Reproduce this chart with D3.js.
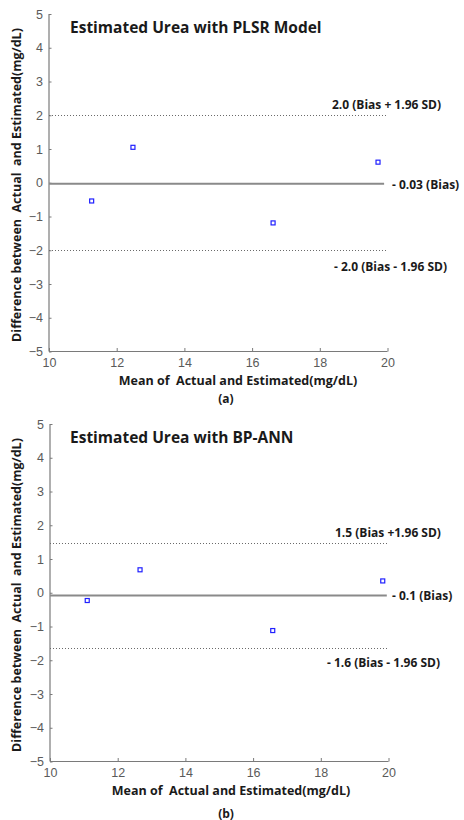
<!DOCTYPE html>
<html><head><meta charset="utf-8">
<script src="https://cdn.jsdelivr.net/npm/d3@7"></script>
<style>body{margin:0;background:#fff}svg{display:block}text{white-space:pre}</style>
</head><body>
<svg id="c" width="464" height="820"></svg>
<script>
// ---- data ----
const xTicks = [10, 12, 14, 16, 18, 20];
const yTicks = [5, 4, 3, 2, 1, 0, -1, -2, -3, -4, -5];
const titles = ["Estimated Urea with PLSR Model", "Estimated Urea with BP-ANN"];
const captions = ["(a)", "(b)"];
const meanA = [11.26, 12.48, 16.62, 19.72];
const diffA = [-0.54, 1.05, -1.19, 0.61];
const meanB = [11.10, 12.66, 16.58, 19.83];
const diffB = [-0.23, 0.68, -1.12, 0.35];
const biasA = [-0.03, 2.0, -2.0];        // bias, upper, lower
const biasB = [-0.08, 1.47, -1.64];
const biasLabelsA = ["- 0.03 (Bias)", "2.0 (Bias + 1.96 SD)", "- 2.0 (Bias - 1.96 SD)"];
const biasLabelsB = ["- 0.1 (Bias)", "1.5 (Bias +1.96 SD)", "- 1.6 (Bias - 1.96 SD)"];
const biasEnd = [19.9, 19.95];

const panels = [
  {top: 14, left: 49, mean: meanA, diff: diffA, bias: biasA, labels: biasLabelsA,
   lblX: [392, 332, 334], lblDy: [5, -6, 21]},
  {top: 424, left: 50, mean: meanB, diff: diffB, bias: biasB, labels: biasLabelsB,
   lblX: [392, 335, 327], lblDy: [5, -6, 19]}
];

const svg = d3.select("#c");
const W = 338.5, H = 337.5;
const boldFont = "'Open Sans', 'Liberation Sans', sans-serif";
const txt = "#1a1a1a";

panels.forEach((p, i) => {
  const g = svg.append("g").attr("transform", `translate(${p.left},${p.top})`);
  const x = d3.scaleLinear().domain([10, 20]).range([0, W]);
  const y = d3.scaleLinear().domain([-5, 5]).range([H, 0]);

  // axes
  const ya = d3.axisLeft(y).tickValues(yTicks).tickSize(-2.5).tickPadding(6).tickFormat(d3.format("d"));
  const xa = d3.axisBottom(x).tickValues(xTicks).tickSize(-3.5).tickPadding(7).tickFormat(d3.format("d"));
  const gy = g.append("g").call(ya);
  const gx = g.append("g").attr("transform", `translate(0,${H})`).call(xa);
  [gx, gy].forEach(a => {
    a.select(".domain").attr("stroke", "#7a7a7a").attr("stroke-width", 1.2);
    a.selectAll(".tick line").attr("stroke", "#7a7a7a");
    a.selectAll(".tick text").attr("fill", "#5a5a5a").attr("font-family", "'Liberation Sans', Arial, sans-serif").attr("font-size", 12.5);
  });
  gx.selectAll(".domain").attr("d", `M0,0H${W}`);
  gy.selectAll(".domain").attr("d", `M0,${H}V0`);

  // limit lines
  g.append("line").attr("x1", 0).attr("x2", x(biasEnd[i])).attr("y1", y(p.bias[0])).attr("y2", y(p.bias[0]))
    .attr("stroke", "#8a8a8a").attr("stroke-width", 2);
  [1, 2].forEach(k => {
    g.append("line").attr("x1", 0).attr("x2", x(20)).attr("y1", Math.round(y(p.bias[k])) + 0.5).attr("y2", Math.round(y(p.bias[k])) + 0.5)
      .attr("stroke", "#6a6a6a").attr("stroke-width", 1).attr("stroke-dasharray", "1,2");
  });

  // labels
  [0, 1, 2].forEach(k => {
    svg.append("text").attr("x", p.lblX[k]).attr("y", p.top + y(p.bias[k]) + p.lblDy[k])
      .attr("font-family", boldFont).attr("font-weight", "bold").attr("font-size", 12)
      .attr("fill", txt).text(p.labels[k]);
  });

  // points
  g.selectAll("rect.pt").data(p.mean.map((m, j) => [m, p.diff[j]])).enter().append("rect")
    .attr("x", d => x(d[0]) - 2).attr("y", d => y(d[1]) - 2).attr("width", 4).attr("height", 4)
    .attr("fill", "#fff").attr("stroke", "#2020ff").attr("stroke-width", 1.2);

  // title
  svg.append("text").attr("x", 70).attr("y", p.top + 18.5)
    .attr("font-family", boldFont).attr("font-weight", "bold").attr("font-size", 15.5)
    .attr("fill", txt).text(titles[i]);

  // x label
  svg.append("text").attr("x", i === 0 ? 238 : 231).attr("y", p.top + H + 33)
    .attr("text-anchor", "middle").attr("font-family", boldFont).attr("font-weight", "bold").attr("font-size", 12.5)
    .attr("fill", txt).text("Mean of  Actual and Estimated(mg/dL)");
  svg.append("text").attr("x", 226).attr("y", p.top + H + (i === 0 ? 51 : 56))
    .attr("text-anchor", "middle").attr("font-family", boldFont).attr("font-weight", "bold").attr("font-size", 12)
    .attr("fill", txt).text(captions[i]);

  // y label
  svg.append("text").attr("transform", `translate(21,${p.top + 171}) rotate(-90)`)
    .attr("text-anchor", "middle").attr("font-family", boldFont).attr("font-weight", "bold").attr("font-size", 12.5)
    .attr("fill", txt).text("Difference between  Actual  and Estimated(mg/dL)");
});
</script>
</body></html>
